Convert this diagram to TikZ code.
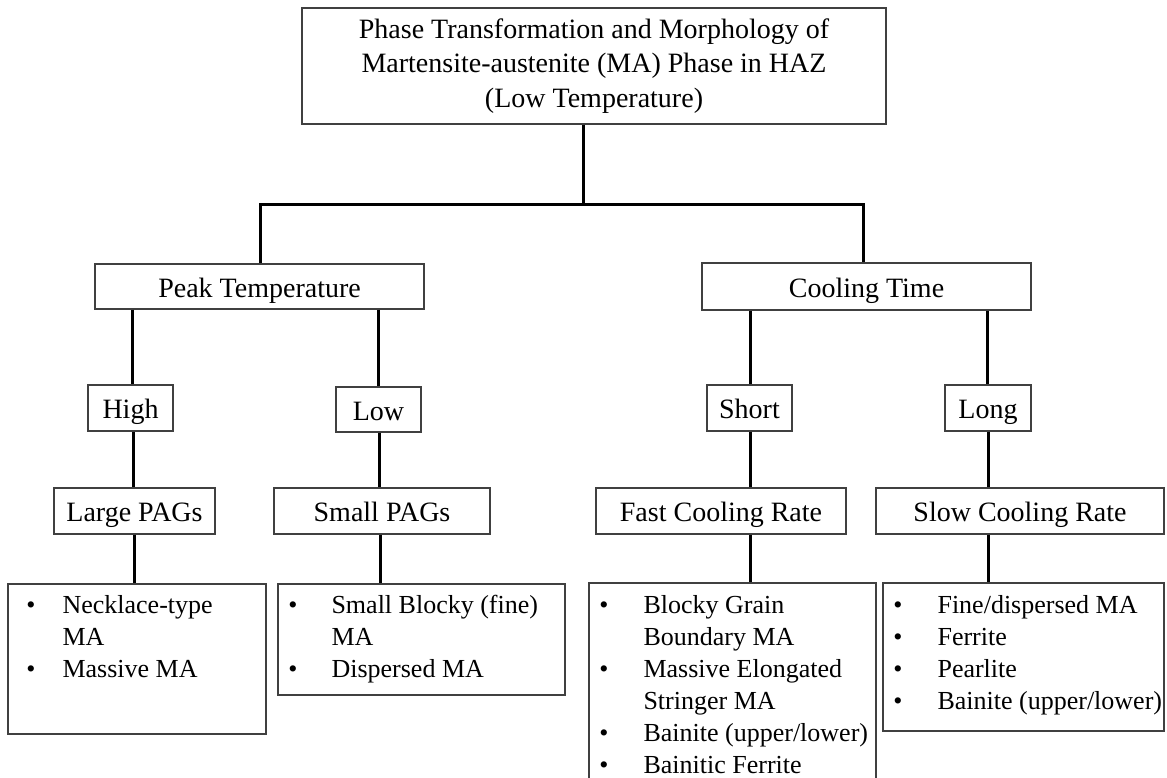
\documentclass[tikz,border=0pt]{standalone}
\usepackage{fontspec}
\setmainfont{Liberation Serif}
\begin{document}
\begin{tikzpicture}[x=1pt,y=-1pt,
  box/.style={draw=black!75,line width=1.2pt,fill=white,inner sep=0pt},
  link/.style={draw=black,line width=3pt},
  mid/.style={font=\fontsize{28}{34}\selectfont,text height=22pt,text depth=1pt,inner sep=0pt},
  lst/.style={font=\fontsize{26}{33}\selectfont,anchor=base west},
  dot/.style={font=\fontsize{26}{33}\selectfont,anchor=base}]
\useasboundingbox (0,0) rectangle (1167,778);

% boxes: corners in picture coordinates
\newcommand{\bx}[5]{\node[box,minimum width=#3-#1,minimum height=#4-#2] (#5) at ({(#1+#3)/2},{(#2+#4)/2}) {};}

\bx{302}{8}{886}{124}{top}
\bx{95}{264}{424}{309}{peak}
\bx{702}{263}{1031}{310}{cool}
\bx{88}{385}{173}{431}{high}
\bx{336}{387}{421}{432}{low}
\bx{707}{385}{792}{431}{short}
\bx{945}{385}{1031}{431}{long}
\bx{54}{488}{215}{534}{large}
\bx{274}{488}{490}{534}{small}
\bx{596}{488}{846}{534}{fast}
\bx{876}{488}{1164}{534}{slow}
\bx{8}{584}{266}{734}{l1}
\bx{278}{584}{565}{695}{l2}
\bx{589}{583}{876}{790}{l3}
\bx{883}{583}{1164}{731}{l4}

% labels
\node[font=\fontsize{28}{34.5}\selectfont,align=center] at (top) {Phase Transformation and Morphology of\\Martensite-austenite (MA) Phase in HAZ\\(Low Temperature)};
\node[mid] at (peak) {Peak Temperature};
\node[mid] at (cool) {Cooling Time};
\node[mid] at (high) {High};
\node[mid] at (low) {Low};
\node[mid] at (short) {Short};
\node[mid] at (long) {Long};
\node[mid] at (large) {Large PAGs};
\node[mid] at (small) {Small PAGs};
\node[mid] at (fast) {Fast Cooling Rate};
\node[mid] at (slow) {Slow Cooling Rate};

% bullet lists
\foreach \y in {613,677} \node[dot] at (31,\y) {•};
\node[lst] at (59,613) {Necklace-type};
\node[lst] at (59,645) {MA};
\node[lst] at (59,677) {Massive MA};

\foreach \y in {613,677} \node[dot] at (293,\y) {•};
\node[lst] at (328,613) {Small Blocky (fine)};
\node[lst] at (328,645) {MA};
\node[lst] at (328,677) {Dispersed MA};

\foreach \y in {613,677,741,773} \node[dot] at (604,\y) {•};
\node[lst] at (640,613) {Blocky Grain};
\node[lst] at (640,645) {Boundary MA};
\node[lst] at (640,677) {Massive Elongated};
\node[lst] at (640,709) {Stringer MA};
\node[lst] at (640,741) {Bainite (upper/lower)};
\node[lst] at (640,773) {Bainitic Ferrite};

\foreach \y in {613,645,677,709} \node[dot] at (898,\y) {•};
\node[lst] at (934,613) {Fine/dispersed MA};
\node[lst] at (934,645) {Ferrite};
\node[lst] at (934,677) {Pearlite};
\node[lst] at (934,709) {Bainite (upper/lower)};

% connectors
\coordinate (jl) at (260,205);
\coordinate (jr) at (863,205);
\draw[link] (top.south -| 583,0) -- (583,205);
\draw[link] (peak.north -| jl) -- (jl) -- (jr) -- (cool.north -| jr);
\draw[link] (peak.south -| 132,0) -- (high.north -| 132,0);
\draw[link] (peak.south -| 378,0) -- (low.north -| 378,0);
\draw[link] (cool.south -| 750,0) -- (short.north -| 750,0);
\draw[link] (cool.south -| 987,0) -- (long.north -| 987,0);
\draw[link] (high.south -| 133,0) -- (large.north -| 133,0);
\draw[link] (low.south -| 379,0) -- (small.north -| 379,0);
\draw[link] (short.south -| 750,0) -- (fast.north -| 750,0);
\draw[link] (long.south -| 988,0) -- (slow.north -| 988,0);
\draw[link] (large.south -| 134,0) -- (l1.north -| 134,0);
\draw[link] (small.south -| 380,0) -- (l2.north -| 380,0);
\draw[link] (fast.south -| 750,0) -- (l3.north -| 750,0);
\draw[link] (slow.south -| 988,0) -- (l4.north -| 988,0);
\end{tikzpicture}
\end{document}
